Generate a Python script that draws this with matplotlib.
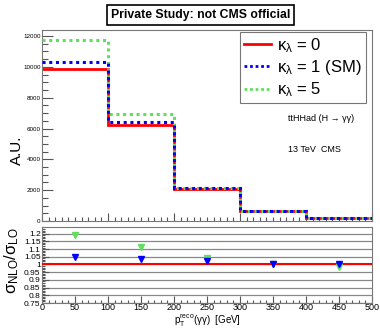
import numpy as np
import matplotlib
matplotlib.use("Agg")
import matplotlib.pyplot as plt
from matplotlib.lines import Line2D
from matplotlib.ticker import MultipleLocator

plt.rcParams['font.family'] = ['Liberation Sans', 'DejaVu Sans']
plt.rcParams['mathtext.default'] = 'regular'

# binning in pT(reco) [GeV]
edges = [0, 100, 200, 300, 400, 500]
centers = [50, 150, 250, 350, 450]

# top panel: event yields (A.U.)
kl0 = [9880, 6220, 2055, 630, 215]
kl1 = [10330, 6400, 2110, 640, 218]
kl5 = [11760, 6910, 2130, 640, 212]

# bottom panel: sigma_NLO / sigma_LO
ratio_kl1 = [1.051, 1.035, 1.020, 1.005, 1.000]
ratio_kl5 = [1.192, 1.113, 1.040, 1.000, 0.985]

c_red = '#ff0000'
c_blue = '#0000ff'
c_green = '#5ee05e'

fig = plt.figure(figsize=(3.8, 3.3), dpi=100)
ax = fig.add_axes([0.1105, 0.3303, 0.8685, 0.5787])
ax2 = fig.add_axes([0.1105, 0.0818, 0.8685, 0.2312])

ax.stairs(kl0, edges, baseline=None, color=c_red, lw=2.0, zorder=2)
ax.stairs(kl5, edges, baseline=None, color=c_green, lw=2.2, ls=(0, (1, 1.2)), zorder=3)
ax.stairs(kl1, edges, baseline=None, color=c_blue, lw=2.2, ls=(0, (1, 1.2)), zorder=4)

ax.set_xlim(0, 500)
ax.set_ylim(0, 12390)
ax.yaxis.set_major_locator(MultipleLocator(2000))
ax.yaxis.set_minor_locator(MultipleLocator(500))
ax.xaxis.set_major_locator(MultipleLocator(100))
ax.xaxis.set_minor_locator(MultipleLocator(10))
ax.tick_params(axis='both', which='both', direction='in', top=False, right=False,
               color='#555555', width=0.8)
ax.tick_params(axis='y', which='major', length=8, labelsize=4.5, pad=1)
ax.tick_params(axis='y', which='minor', length=4)
ax.tick_params(axis='x', which='major', length=6, labelbottom=False)
ax.tick_params(axis='x', which='minor', length=3)
for s in ax.spines.values():
    s.set_color('#777777')
ax.set_ylabel('A.U.', fontsize=11, labelpad=2)
ax.yaxis.set_label_coords(-0.055, 0.37)

handles = [Line2D([], [], color=c_red, lw=2),
           Line2D([], [], color=c_blue, lw=2, ls=(0, (1, 1))),
           Line2D([], [], color=c_green, lw=2, ls=(0, (1, 1)))]
labels = [r'$\kappa_{\lambda}$ = 0', r'$\kappa_{\lambda}$ = 1 (SM)', r'$\kappa_{\lambda}$ = 5']
leg = ax.legend(handles, labels, loc='upper right', bbox_to_anchor=(0.982, 0.99),
                fontsize=12, frameon=True, fancybox=False, handlelength=1.6,
                handletextpad=0.4, borderpad=0.25, labelspacing=0.2, borderaxespad=0)
leg.get_frame().set_edgecolor('#555555')
leg.get_frame().set_linewidth(0.8)

ax.text(0.745, 0.525, 'ttHHad (H \u2192 \u03b3\u03b3)', transform=ax.transAxes,
        fontsize=6.5)
ax.text(0.745, 0.36, '13 TeV  CMS', transform=ax.transAxes, fontsize=6.5)

fig.text(0.527, 0.955, 'Private Study: not CMS official', ha='center', va='center',
         fontsize=8.8, fontweight='bold',
         bbox=dict(boxstyle='square,pad=0.3', facecolor='white', edgecolor='black', lw=1.2))

# ratio panel
ax2.axhline(1.0, color=c_red, lw=1.5, zorder=3)
ax2.plot(centers, ratio_kl5, 'v', color=c_green, ms=4, zorder=4)
ax2.plot(centers, ratio_kl1, 'v', color=c_blue, ms=4, zorder=5)
ax2.set_xlim(0, 500)
ax2.set_ylim(0.75, 1.245)
ax2.yaxis.set_major_locator(MultipleLocator(0.05))
ax2.yaxis.set_minor_locator(MultipleLocator(0.01))
ax2.yaxis.set_major_formatter(plt.FuncFormatter(lambda v, p: '%g' % round(v, 2)))
ax2.xaxis.set_major_locator(MultipleLocator(50))
ax2.xaxis.set_minor_locator(MultipleLocator(10))
ax2.grid(axis='y', which='major', color='#888888', lw=0.9)
ax2.tick_params(axis='both', which='both', direction='in', top=False, right=False,
                color='#555555', width=0.8)
ax2.tick_params(axis='y', which='major', length=5, labelsize=6, pad=1)
ax2.tick_params(axis='y', which='minor', length=2)
ax2.tick_params(axis='x', which='major', length=5, labelsize=6.5, pad=0)
ax2.tick_params(axis='x', which='minor', length=2.5)
for s in ax2.spines.values():
    s.set_color('#777777')
ax2.set_ylabel(r'$\sigma_{NLO}/\sigma_{LO}$', fontsize=12, labelpad=1)
ax2.yaxis.set_label_coords(-0.065, 0.55)

fig.text(0.545, 0.003, r'$p_{T}^{reco}(\gamma\gamma)$  [GeV]', ha='center', va='bottom',
         fontsize=7)

fig.savefig('out.png', dpi=100)
